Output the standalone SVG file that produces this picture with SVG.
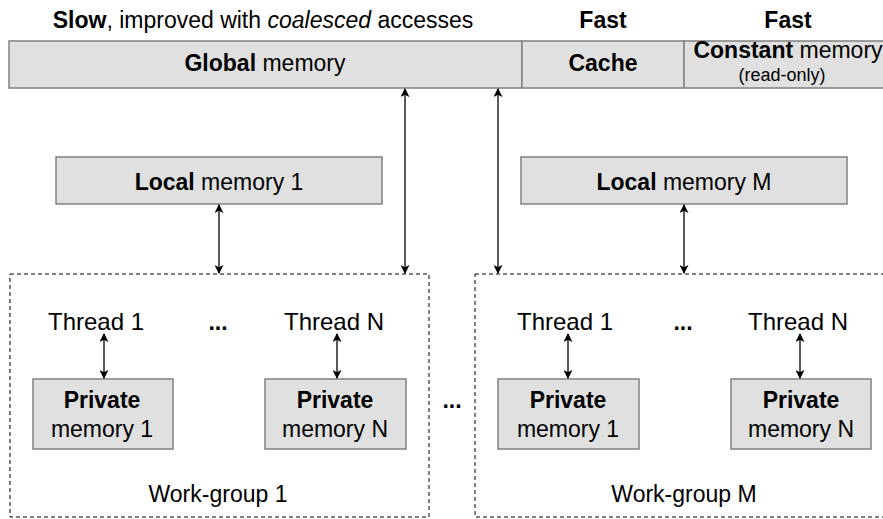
<svg xmlns="http://www.w3.org/2000/svg" width="883" height="519" viewBox="0 0 883 519">
<style>
text{font-family:"Liberation Sans",Arial,sans-serif;font-size:23px;fill:#000;text-anchor:middle}
.b{font-weight:bold}
.i{font-style:italic}
.box{fill:#e0e0e0;stroke:#808080;stroke-width:1.5}
.wg{fill:none;stroke:#000;stroke-width:1;stroke-dasharray:4 3}
.con{stroke:#000;stroke-width:1.3;fill:none;marker-start:url(#ah);marker-end:url(#ah)}
.sm{font-size:18px}
.th{font-size:24px}
</style>
<defs>
<marker id="ah" viewBox="0 0 10 10" refX="9" refY="5" markerWidth="9" markerHeight="9" markerUnits="userSpaceOnUse" orient="auto-start-reverse">
<path d="M0,0 L10,5 L0,10 L2.5,5 Z" fill="#000"/>
</marker>
</defs>
<g id="headers">
<text x="263" y="28"><tspan class="b">Slow</tspan>, improved with <tspan class="i">coalesced</tspan> accesses</text>
<text x="603" y="28" class="b">Fast</text>
<text x="788" y="28" class="b">Fast</text>
</g>
<g id="global">
<rect class="box" x="9" y="41" width="513" height="47"/>
<text x="265" y="71"><tspan class="b">Global</tspan> memory</text>
</g>
<g id="cache">
<rect class="box" x="522" y="41" width="162" height="47"/>
<text x="603" y="71" class="b">Cache</text>
</g>
<g id="constant">
<rect class="box" x="684" y="41" width="210" height="47"/>
<text x="788" y="58"><tspan class="b">Constant</tspan> memory</text>
<text x="782" y="81" class="sm">(read-only)</text>
</g>
<g id="local1">
<rect class="box" x="56" y="157" width="326" height="47"/>
<text x="219" y="190"><tspan class="b">Local</tspan> memory 1</text>
</g>
<g id="localM">
<rect class="box" x="521" y="157" width="326" height="47"/>
<text x="684" y="190"><tspan class="b">Local</tspan> memory M</text>
</g>
<g id="workgroup1">
<rect class="wg" x="10" y="274" width="419" height="243"/>
<text x="218" y="502">Work-group 1</text>
<text x="218" y="330" class="b">...</text>
</g>
<g id="workgroupM">
<rect class="wg" x="475" y="274" width="420" height="243"/>
<text x="684" y="502">Work-group M</text>
<text x="683" y="330" class="b">...</text>
</g>
<text x="452" y="408" class="b">...</text>
<g id="wg1-thread1"><text x="96" y="330" class="th">Thread 1</text></g>
<g id="wg1-threadN"><text x="334" y="330" class="th">Thread N</text></g>
<g id="wgM-thread1"><text x="565" y="330" class="th">Thread 1</text></g>
<g id="wgM-threadN"><text x="798" y="330" class="th">Thread N</text></g>
<g id="wg1-private1">
<rect class="box" x="33" y="379" width="140" height="70"/>
<text x="102" y="408" class="b">Private</text>
<text x="102" y="437">memory 1</text>
</g>
<g id="wg1-privateN">
<rect class="box" x="265" y="379" width="141" height="70"/>
<text x="335" y="408" class="b">Private</text>
<text x="335" y="437">memory N</text>
</g>
<g id="wgM-private1">
<rect class="box" x="498" y="379" width="141" height="70"/>
<text x="568" y="408" class="b">Private</text>
<text x="568" y="437">memory 1</text>
</g>
<g id="wgM-privateN">
<rect class="box" x="731" y="379" width="140" height="70"/>
<text x="801" y="408" class="b">Private</text>
<text x="801" y="437">memory N</text>
</g>
<g id="connectors">
<line class="con" x1="405" y1="89" x2="405" y2="273"/>
<line class="con" x1="498" y1="89" x2="498" y2="273"/>
<line class="con" x1="219" y1="205" x2="219" y2="273"/>
<line class="con" x1="684" y1="205" x2="684" y2="273"/>
<line class="con" x1="104" y1="334" x2="104" y2="378"/>
<line class="con" x1="337" y1="334" x2="337" y2="378"/>
<line class="con" x1="568" y1="334" x2="568" y2="378"/>
<line class="con" x1="800" y1="334" x2="800" y2="378"/>
</g>
</svg>
